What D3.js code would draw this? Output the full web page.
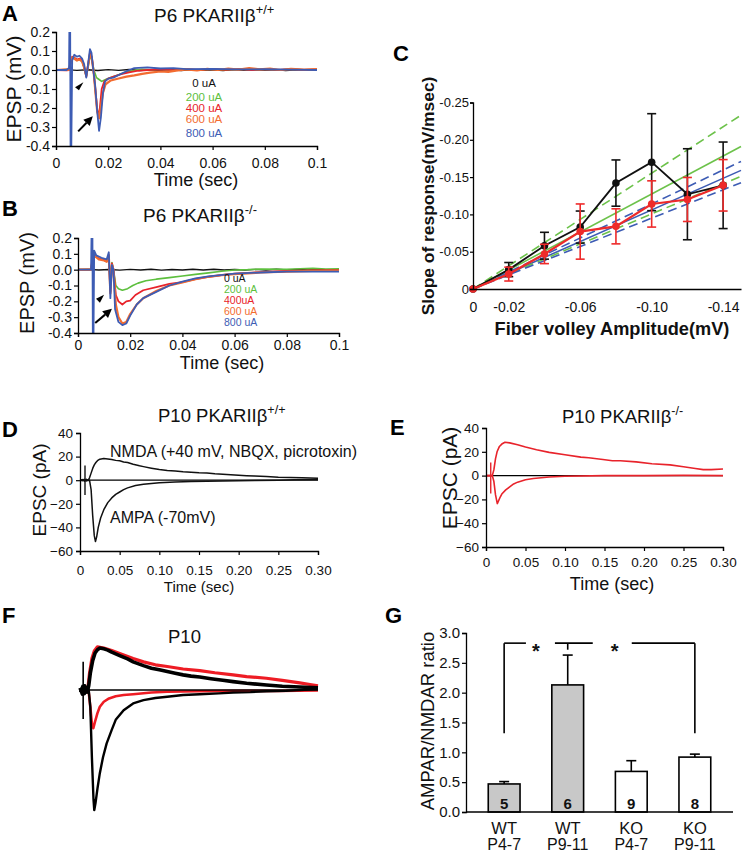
<!DOCTYPE html>
<html><head><meta charset="utf-8">
<script src="https://cdn.jsdelivr.net/npm/d3@7"></script>
<style>
body{margin:0;background:#fff;}
svg{display:block;font-family:"Liberation Sans",Arial,Helvetica,sans-serif;}
</style></head><body>
<svg id="fig" width="742" height="853"></svg>
<script>
// ================= DATA =================
// ---- Panels A & B (EPSP traces) ----
const timeTicksAB = [0, 0.02, 0.04, 0.06, 0.08, 0.1];
const timeTickLabelsAB = ["0", "0.02", "0.04", "0.06", "0.08", "0.1"];
const epspTicks = [0.2, 0.1, 0, -0.1, -0.2, -0.3, -0.4];
const epspTickLabels = ["0.2", "0.1", "0.0", "-0.1", "-0.2", "-0.3", "-0.4"];
const stimNames = ["0uA", "200uA", "400uA", "600uA", "800uA"];
const stimLabelsA = ["0 uA", "200 uA", "400 uA", "600 uA", "800 uA"];
const stimLabelsB = ["0 uA", "200 uA", "400uA", "600 uA", "800 uA"];

const traceA_0 = [[0,0],[0.004,0.002],[0.008,-0.002],[0.012,0.001],[0.016,-0.003],[0.02,0.002],[0.024,-0.002],[0.028,0.003],[0.032,-0.003],[0.036,0.001],[0.04,-0.002],[0.044,0.003],[0.048,-0.003],[0.052,0.002],[0.056,-0.002],[0.06,0.001],[0.064,-0.003],[0.068,0.002],[0.072,-0.002],[0.076,0.003],[0.08,-0.002],[0.084,0.002],[0.088,-0.003],[0.092,0.001],[0.096,-0.002],[0.1,0.001]];
const traceA_200 = [[0,0],[0.004,0.002],[0.005,0],[0.0055,0.03],[0.0062,0.06],[0.007,0.065],[0.008,0.05],[0.009,0.055],[0.010,0.045],[0.0108,0.01],[0.0116,-0.03],[0.0122,0.01],[0.013,0.07],[0.0137,0.06],[0.0145,0.0],[0.0155,-0.04],[0.0165,-0.05],[0.0175,-0.06],[0.019,-0.05],[0.021,-0.04],[0.023,-0.03],[0.025,-0.02],[0.027,-0.01],[0.03,-0.003],[0.033,0.004],[0.037,0.0],[0.04,0.005],[0.045,-0.002],[0.05,0.004],[0.055,0.0],[0.06,0.005],[0.065,0.0],[0.07,0.004],[0.075,0.0],[0.08,0.003],[0.085,0.0],[0.09,0.004],[0.095,0.0],[0.1,0.002]];
const traceA_400 = [[0,0],[0.004,-0.002],[0.005,0],[0.0055,0.04],[0.0062,0.07],[0.007,0.065],[0.008,0.055],[0.009,0.06],[0.010,0.05],[0.0108,0.015],[0.0116,-0.035],[0.0122,0.02],[0.013,0.09],[0.0137,0.07],[0.0145,-0.02],[0.0152,-0.12],[0.0158,-0.21],[0.0163,-0.245],[0.0168,-0.2],[0.0175,-0.1],[0.0185,-0.06],[0.02,-0.045],[0.022,-0.035],[0.025,-0.022],[0.028,-0.012],[0.031,-0.005],[0.035,0.0],[0.04,0.004],[0.045,-0.001],[0.05,0.005],[0.055,0.0],[0.06,0.006],[0.065,0.001],[0.07,0.005],[0.075,0.0],[0.08,0.004],[0.085,0.001],[0.09,0.005],[0.095,0.0],[0.1,0.003]];
const traceA_600 = [[0,0],[0.004,0.003],[0.005,0],[0.0055,0.035],[0.0062,0.065],[0.007,0.06],[0.008,0.05],[0.009,0.055],[0.010,0.045],[0.0108,0.012],[0.0116,-0.03],[0.0122,0.015],[0.013,0.08],[0.0137,0.065],[0.0145,-0.02],[0.0152,-0.13],[0.0158,-0.22],[0.0165,-0.255],[0.017,-0.21],[0.018,-0.12],[0.019,-0.075],[0.021,-0.055],[0.024,-0.045],[0.027,-0.035],[0.03,-0.028],[0.033,-0.02],[0.036,-0.014],[0.04,-0.008],[0.043,-0.01],[0.046,-0.003],[0.05,0.003],[0.054,-0.002],[0.058,0.006],[0.062,0.0],[0.066,0.008],[0.07,0.002],[0.074,0.01],[0.078,0.003],[0.082,0.008],[0.086,0.0],[0.09,0.006],[0.095,0.002],[0.1,0.005]];
const traceA_800 = [[0,0],[0.004,0.0],[0.005,0.01],[0.0052,0.35],[0.0054,0.35],[0.0056,-0.5],[0.0058,-0.5],[0.0062,0.05],[0.007,0.08],[0.008,0.07],[0.009,0.075],[0.010,0.06],[0.0108,0.03],[0.0116,-0.04],[0.0122,0.02],[0.013,0.11],[0.0136,0.09],[0.0143,0.0],[0.015,-0.08],[0.0158,-0.22],[0.0165,-0.32],[0.0172,-0.25],[0.018,-0.12],[0.0188,-0.06],[0.02,-0.045],[0.022,-0.04],[0.025,-0.02],[0.028,0.0],[0.03,0.01],[0.035,0.014],[0.04,0.008],[0.045,0.01],[0.05,0.005],[0.06,0.006],[0.07,0.003],[0.08,0.004],[0.09,0.002],[0.1,0.0]];

const traceB_0 = [[0,0],[0.004,0.002],[0.008,-0.002],[0.012,0.001],[0.016,-0.003],[0.02,0.002],[0.024,-0.002],[0.028,0.003],[0.032,-0.003],[0.036,0.001],[0.04,-0.002],[0.044,0.003],[0.048,-0.002],[0.052,0.003],[0.056,-0.002],[0.06,0.001],[0.064,-0.002],[0.068,0.002],[0.072,-0.002],[0.076,0.003],[0.08,-0.001],[0.084,0.002],[0.088,-0.002],[0.092,0.001],[0.096,-0.002],[0.1,0.001]];
const traceB_200 = [[0,0],[0.005,0],[0.0056,0.06],[0.0065,0.085],[0.008,0.07],[0.010,0.06],[0.011,0.055],[0.0118,0.08],[0.0124,-0.1],[0.013,0.045],[0.0136,0.0],[0.0145,-0.1],[0.0155,-0.12],[0.017,-0.13],[0.019,-0.12],[0.021,-0.1],[0.023,-0.085],[0.026,-0.07],[0.03,-0.06],[0.035,-0.05],[0.04,-0.04],[0.045,-0.03],[0.05,-0.02],[0.055,-0.01],[0.06,-0.002],[0.065,0.0],[0.07,0.004],[0.08,0.003],[0.09,0.008],[0.095,0.004],[0.1,0.005]];
const traceB_400 = [[0,0],[0.005,0],[0.0056,0.07],[0.0065,0.09],[0.008,0.07],[0.010,0.06],[0.011,0.055],[0.0118,0.09],[0.0124,-0.14],[0.013,0.04],[0.0136,0.0],[0.0145,-0.16],[0.0155,-0.2],[0.017,-0.22],[0.0185,-0.2],[0.02,-0.195],[0.022,-0.16],[0.025,-0.13],[0.03,-0.11],[0.035,-0.09],[0.04,-0.078],[0.045,-0.06],[0.05,-0.045],[0.055,-0.035],[0.06,-0.025],[0.07,-0.015],[0.08,-0.008],[0.09,-0.005],[0.1,-0.003]];
const traceB_600 = [[0,0],[0.005,0],[0.0056,0.07],[0.0065,0.085],[0.008,0.065],[0.010,0.058],[0.011,0.05],[0.0118,0.09],[0.0124,-0.15],[0.013,0.03],[0.0136,0.0],[0.0145,-0.22],[0.0155,-0.3],[0.017,-0.34],[0.0185,-0.33],[0.02,-0.28],[0.0225,-0.22],[0.025,-0.18],[0.03,-0.135],[0.035,-0.1],[0.04,-0.08],[0.045,-0.06],[0.05,-0.045],[0.055,-0.035],[0.06,-0.028],[0.07,-0.018],[0.08,-0.012],[0.09,-0.008],[0.1,-0.006]];
const traceB_800 = [[0,0],[0.005,0],[0.0053,0.35],[0.0055,0.35],[0.0057,-0.5],[0.0059,-0.5],[0.0062,0.12],[0.007,0.09],[0.009,0.075],[0.011,0.065],[0.0118,0.11],[0.0124,-0.18],[0.013,0.03],[0.0136,0.0],[0.0142,-0.25],[0.0155,-0.33],[0.017,-0.35],[0.0185,-0.34],[0.02,-0.29],[0.0225,-0.22],[0.025,-0.18],[0.03,-0.14],[0.035,-0.1],[0.04,-0.075],[0.045,-0.055],[0.05,-0.042],[0.06,-0.025],[0.07,-0.018],[0.08,-0.012],[0.09,-0.012],[0.1,-0.012]];

// arrow annotations (data coordinates: [time, mV])
const arrowheadA = [[0.0105,-0.065],[0.0073,-0.091],[0.0088,-0.107]];
const arrowA = [[0.0085,-0.323],[0.0141,-0.244]];
const arrowheadB = [[0.0100,-0.158],[0.0069,-0.184],[0.0084,-0.209]];
const arrowB = [[0.0066,-0.337],[0.0130,-0.247]];

// ---- Panel C ----
const fiberVolley = [0, -0.02, -0.04, -0.06, -0.08, -0.10, -0.12, -0.14];
const slopeWT = [0, -0.026, -0.058, -0.083, -0.142, -0.170, -0.127, -0.139];
const slopeWTerr = [0, 0.0095, 0.018, 0.0215, 0.031, 0.065, 0.061, 0.058];
const slopeKO = [0, -0.020, -0.047, -0.077, -0.084, -0.114, -0.120, -0.139];
const slopeKOerr = [0, 0.0093, 0.013, 0.037, 0.0235, 0.031, 0.0295, 0.0345];
const fitEndX = -0.15;
const fitNames = ["green dashed 1", "green solid", "blue dashed 1", "blue solid", "green dashed 2", "blue dashed 2"];
const fitEndY = [-0.233, -0.191, -0.171, -0.159, -0.151, -0.1425];
const fitColor = ["green", "green", "blue", "blue", "green", "blue"];
const fitDashed = [true, false, true, false, true, true];
const cTicksX = [0, -0.02, -0.06, -0.10, -0.14];
const cTickLabelsX = ["0", "-0.02", "-0.06", "-0.10", "-0.14"];
const cTicksY = [0, -0.05, -0.10, -0.15, -0.20, -0.25];
const cTickLabelsY = ["0", "-0.05", "-0.10", "-0.15", "-0.20", "-0.25"];

// ---- Panels D, E (EPSC traces) ----
const epscTimeTicks = [0, 0.05, 0.10, 0.15, 0.20, 0.25, 0.30];
const epscTimeLabels = ["0", "0.05", "0.10", "0.15", "0.20", "0.25", "0.30"];
const epscTicks = [40, 20, 0, -20, -40, -60];

const nmdaWT = [[0,0],[0.004,0.6],[0.006,-0.8],[0.008,0.7],[0.010,-0.4],[0.012,2],[0.014,6],[0.016,10],[0.018,13],[0.02,15],[0.022,16.5],[0.025,17.8],[0.03,18.4],[0.035,18],[0.04,17.6],[0.045,16.8],[0.05,16.4],[0.055,15.5],[0.06,15],[0.067,13.5],[0.075,12.2],[0.08,11.5],[0.09,10.2],[0.1,9],[0.11,8.3],[0.12,7.8],[0.13,7.2],[0.14,6.8],[0.15,6.3],[0.16,6],[0.17,5.4],[0.18,5],[0.19,4.6],[0.2,4.2],[0.21,3.8],[0.22,3.5],[0.235,3.2],[0.25,2.6],[0.265,2.3],[0.28,2],[0.3,1.6]];
const ampaWT = [[0,0],[0.004,-0.5],[0.006,0.8],[0.008,-0.6],[0.010,0.4],[0.012,0],[0.014,-8],[0.016,-30],[0.018,-47],[0.0195,-52],[0.021,-48],[0.023,-40],[0.026,-32],[0.03,-25],[0.035,-19],[0.04,-15],[0.045,-12],[0.05,-10],[0.055,-8],[0.06,-6.5],[0.07,-4.5],[0.08,-3.5],[0.09,-2.8],[0.1,-2.2],[0.12,-1.6],[0.14,-1.2],[0.16,-0.9],[0.18,-0.6],[0.2,-0.4],[0.22,-0.2],[0.25,0],[0.27,0.4],[0.3,0.6]];
const artifactWT = [[0.0063,12.5],[0.0063,-12.5]];

const nmdaKO = [[0,0],[0.004,0],[0.008,0],[0.010,5],[0.012,14],[0.014,20],[0.017,24.5],[0.02,26.5],[0.024,28],[0.03,27.5],[0.04,26],[0.05,24],[0.064,21.7],[0.08,19.5],[0.1,17.5],[0.12,15.5],[0.13,15],[0.148,13.5],[0.16,12.5],[0.17,12.5],[0.19,11.5],[0.21,10],[0.233,9],[0.25,7.5],[0.265,6],[0.275,5],[0.285,5],[0.3,5.5]];
const ampaKO = [[0,0],[0.008,0],[0.010,-5],[0.012,-16],[0.0143,-23.5],[0.016,-21],[0.018,-18],[0.02,-15.5],[0.025,-12],[0.03,-9.5],[0.035,-7],[0.04,-5.5],[0.05,-3.5],[0.06,-2.5],[0.08,-1.2],[0.1,-0.5],[0.15,0],[0.2,0],[0.25,0.2],[0.3,0]];
const artifactKO = [[0.006,11],[0.006,-15]];

// ---- Panel F (scaled overlay, NMDA peak = 1) ----
const fNmdaWT = [[0,0.05],[0.003,-0.1],[0.006,0.1],[0.009,-0.05],[0.011,0.1],[0.013,0.4],[0.016,0.7],[0.019,0.88],[0.022,0.96],[0.025,1.0],[0.03,0.98],[0.035,0.95],[0.04,0.9],[0.05,0.82],[0.06,0.74],[0.067,0.67],[0.08,0.58],[0.09,0.52],[0.1,0.48],[0.11,0.44],[0.12,0.4],[0.13,0.36],[0.14,0.33],[0.151,0.31],[0.165,0.27],[0.18,0.23],[0.193,0.2],[0.21,0.16],[0.235,0.12],[0.255,0.09],[0.277,0.07],[0.3,0.05]];
const fNmdaKO = [[0,0],[0.01,0.05],[0.012,0.4],[0.015,0.75],[0.018,0.93],[0.022,1.03],[0.03,1.0],[0.04,0.94],[0.05,0.87],[0.067,0.75],[0.08,0.67],[0.095,0.6],[0.11,0.56],[0.13,0.5],[0.151,0.46],[0.17,0.41],[0.193,0.36],[0.21,0.32],[0.235,0.28],[0.255,0.23],[0.277,0.17],[0.29,0.13],[0.3,0.1]];
const fAmpaWT = [[0,-0.05],[0.003,0.1],[0.006,-0.1],[0.009,0.05],[0.011,0],[0.013,-0.4],[0.015,-1.6],[0.017,-2.6],[0.018,-2.86],[0.0195,-2.7],[0.022,-2.35],[0.025,-1.98],[0.029,-1.6],[0.0336,-1.27],[0.04,-0.95],[0.045,-0.71],[0.055,-0.48],[0.067,-0.32],[0.08,-0.24],[0.095,-0.19],[0.11,-0.16],[0.13,-0.12],[0.151,-0.1],[0.175,-0.08],[0.193,-0.06],[0.215,-0.05],[0.235,-0.03],[0.26,-0.02],[0.277,0],[0.3,0.02]];
const fAmpaKO = [[0.008,0],[0.011,-0.05],[0.013,-0.4],[0.015,-0.8],[0.0168,-0.91],[0.019,-0.75],[0.022,-0.55],[0.025,-0.4],[0.03,-0.28],[0.0366,-0.2],[0.045,-0.15],[0.055,-0.12],[0.067,-0.1],[0.09,-0.06],[0.11,-0.04],[0.15,-0.03],[0.2,-0.02],[0.25,-0.02],[0.3,-0.01]];
const fArtifact = [[0.004,0.67],[0.004,-0.69]];

// ---- Panel G (bar chart) ----
const groupGenotype = ["WT", "WT", "KO", "KO"];
const groupAge = ["P4-7", "P9-11", "P4-7", "P9-11"];
const ratioMean = [0.47, 2.13, 0.68, 0.92];
const ratioErr = [0.04, 0.50, 0.18, 0.05];
const cellCount = [5, 6, 9, 8];
const ratioTicks = [0, 0.5, 1.0, 1.5, 2.0, 2.5, 3.0];
const sigBracket = { fromGroup: 0, toGroup: 3, top: 2.83, bottom: 1.32, midGroup: 1, midBottom: 2.72 };
const sigStars = [{ between: [0, 1], frac: 0.5, gap: [-10, 19] }, { between: [1, 3], frac: 0.37, gap: [-22, 17] }];

// ================= DRAWING =================
const svg = d3.select("#fig");
svg.append("rect").attr("width", 742).attr("height", 853).attr("fill", "#fff");

const COL = { black: "#111111", green: "#5dbf3e", red: "#e8232b", orange: "#f36c30", blue: "#3d5cb4" };
const stimColors = [COL.black, COL.green, COL.red, COL.orange, COL.blue];

function styleAxis(g, fs) {
  g.selectAll("path.domain").attr("stroke", "#000").attr("stroke-width", 1.3);
  g.selectAll(".tick line").attr("stroke", "#000").attr("stroke-width", 1.2);
  g.selectAll(".tick text").attr("font-size", fs).attr("fill", "#111")
    .attr("font-family", '"Liberation Sans",Arial,sans-serif');
}

function panelLetter(txt, x, y) {
  svg.append("text").attr("x", x).attr("y", y).text(txt)
    .attr("font-size", 22).attr("font-weight", "bold").attr("fill", "#000");
}
function titleSup(x, y, main, sup, fs) {
  const t = svg.append("text").attr("x", x).attr("y", y).attr("font-size", fs).attr("fill", "#111");
  t.append("tspan").text(main);
  if (sup) t.append("tspan").attr("dy", -fs * 0.42).attr("font-size", fs * 0.68).text(sup);
}
function yLabel(txt, x, y, fs, weight) {
  svg.append("text").attr("transform", `translate(${x},${y}) rotate(-90)`)
    .attr("text-anchor", "middle").attr("font-size", fs).attr("font-weight", weight || "normal")
    .attr("fill", "#111").text(txt);
}
function xLabel(txt, x, y, fs, weight) {
  svg.append("text").attr("x", x).attr("y", y).attr("text-anchor", "middle")
    .attr("font-size", fs).attr("font-weight", weight || "normal").attr("fill", "#111").text(txt);
}

// ---------- EPSP panel builder (A, B) ----------
function epspPanel(cfg) {
  const x = d3.scaleLinear().domain([0, 0.1]).range(cfg.xr);
  const y = d3.scaleLinear().domain([-0.4, 0.2]).range(cfg.yr);
  const clipId = "clip" + cfg.id;
  svg.append("clipPath").attr("id", clipId).append("rect")
    .attr("x", cfg.xr[0]).attr("y", cfg.yr[1]).attr("width", cfg.xr[1] - cfg.xr[0]).attr("height", cfg.yr[0] - cfg.yr[1]);
  const line = d3.line().x(d => x(d[0])).y(d => y(d[1]));
  const g = svg.append("g").attr("clip-path", `url(#${clipId})`);
  const widths = [1.4, 1.6, 1.8, 2.2, 1.8];
  cfg.traces.forEach((tr, i) => {
    g.append("path").datum(tr).attr("d", line).attr("fill", "none")
      .attr("stroke", stimColors[i]).attr("stroke-width", widths[i]).attr("stroke-linejoin", "round");
  });
  // legend labels
  cfg.labels.forEach((lab, i) => {
    svg.append("text").attr("x", cfg.legX).attr("y", cfg.legY[i]).attr("text-anchor", cfg.legAnchor)
      .attr("font-size", cfg.legFs).attr("fill", stimColors[i]).text(lab);
  });
  // arrowhead triangle
  svg.append("path").attr("d", "M" + cfg.head.map(p => [x(p[0]), y(p[1])].join(",")).join("L") + "Z").attr("fill", "#000");
  // arrow
  const p0 = [x(cfg.arrow[0][0]), y(cfg.arrow[0][1])], p1 = [x(cfg.arrow[1][0]), y(cfg.arrow[1][1])];
  const ang = Math.atan2(p1[1] - p0[1], p1[0] - p0[0]);
  const hl = 9, hw = 4.5;
  const bx = p1[0] - hl * Math.cos(ang), by = p1[1] - hl * Math.sin(ang);
  svg.append("line").attr("x1", p0[0]).attr("y1", p0[1]).attr("x2", bx).attr("y2", by).attr("stroke", "#000").attr("stroke-width", 2);
  svg.append("path").attr("d", `M${p1[0]},${p1[1]}L${bx + hw * Math.sin(ang)},${by - hw * Math.cos(ang)}L${bx - hw * Math.sin(ang)},${by + hw * Math.cos(ang)}Z`).attr("fill", "#000");
  // axes
  const ax = svg.append("g").attr("transform", `translate(0,${cfg.yr[0]})`)
    .call(d3.axisBottom(x).tickValues(timeTicksAB).tickFormat((d, i) => timeTickLabelsAB[i]).tickSizeOuter(0).tickSize(4).tickPadding(cfg.xPad));
  styleAxis(ax, cfg.tickFs);
  const ay = svg.append("g").attr("transform", `translate(${cfg.xr[0]},0)`)
    .call(d3.axisLeft(y).tickValues(epspTicks).tickFormat((d, i) => epspTickLabels[i]).tickSizeOuter(0).tickSize(4).tickPadding(2));
  styleAxis(ay, cfg.tickFs);
}

epspPanel({
  id: "A", xr: [56, 317], yr: [146, 32], xPad: 8, tickFs: 14,
  traces: [traceA_0, traceA_200, traceA_400, traceA_600, traceA_800],
  labels: stimLabelsA, legX: 204, legAnchor: "middle", legY: [87, 101, 112, 123, 137], legFs: 11.5,
  head: arrowheadA, arrow: arrowA
});
epspPanel({
  id: "B", xr: [78, 339], yr: [333, 238], xPad: 3, tickFs: 14,
  traces: [traceB_0, traceB_200, traceB_400, traceB_600, traceB_800],
  labels: stimLabelsB, legX: 224, legAnchor: "start", legY: [282, 293, 304, 315, 326], legFs: 10.5,
  head: arrowheadB, arrow: arrowB
});
panelLetter("A", 2, 21);
panelLetter("B", 2, 216);
titleSup(154, 22, "P6 PKARIIβ", "+/+", 19);
titleSup(143, 222, "P6 PKARIIβ", "-/-", 19);
yLabel("EPSP (mV)", 21, 89, 21);
yLabel("EPSP (mV)", 34, 283, 20);
xLabel("Time (sec)", 196, 186, 18);
xLabel("Time (sec)", 222, 369, 18);

// ---------- Panel C ----------
(function () {
  const x = d3.scaleLinear().domain([0, -0.15]).range([473, 741]);
  const y = d3.scaleLinear().domain([0, -0.25]).range([289, 102.5]);
  const fitColors = { green: "#6cc24a", blue: "#3d5cb4" };
  fitEndY.forEach((v, i) => {
    svg.append("line").attr("x1", x(0)).attr("y1", y(0)).attr("x2", x(fitEndX)).attr("y2", y(v))
      .attr("stroke", fitColors[fitColor[i]]).attr("stroke-width", 1.6)
      .attr("stroke-dasharray", fitDashed[i] ? "9,5" : null);
  });
  const series = [
    { vals: slopeWT, err: slopeWTerr, color: "#111", w: 1.8 },
    { vals: slopeKO, err: slopeKOerr, color: "#ee2a2a", w: 2.2 }
  ];
  series.forEach(s => {
    const pts = fiberVolley.map((fv, i) => [fv, s.vals[i], s.err[i]]);
    const g = svg.append("g");
    pts.forEach(p => {
      if (p[2] > 0) {
        const x0 = x(p[0]), yt = y(p[1] - p[2]), yb = y(p[1] + p[2]);
        g.append("line").attr("x1", x0).attr("x2", x0).attr("y1", yt).attr("y2", yb).attr("stroke", s.color).attr("stroke-width", 1.6);
        [yt, yb].forEach(yy => g.append("line").attr("x1", x0 - 4.5).attr("x2", x0 + 4.5).attr("y1", yy).attr("y2", yy).attr("stroke", s.color).attr("stroke-width", 1.6));
      }
    });
    g.append("path").datum(pts).attr("d", d3.line().x(d => x(d[0])).y(d => y(d[1])))
      .attr("fill", "none").attr("stroke", s.color).attr("stroke-width", s.w);
    g.selectAll("circle").data(pts).join("circle").attr("cx", d => x(d[0])).attr("cy", d => y(d[1]))
      .attr("r", 3.8).attr("fill", s.color);
  });
  const ax = svg.append("g").attr("transform", "translate(0,289)")
    .call(d3.axisBottom(x).tickValues(cTicksX).tickFormat((d, i) => cTickLabelsX[i]).tickSizeOuter(0).tickSize(0).tickPadding(13));
  styleAxis(ax, 14);
  const ay = svg.append("g").attr("transform", "translate(473,0)")
    .call(d3.axisLeft(y).tickValues(cTicksY).tickFormat((d, i) => cTickLabelsY[i]).tickSizeOuter(0).tickSize(3).tickPadding(1));
  styleAxis(ay, 13);
  panelLetter("C", 393, 61);
  yLabel("Slope of response(mV/msec)", 434, 196, 17.4, "bold");
  xLabel("Fiber volley Amplitude(mV)", 612, 335, 18.2, "bold");
})();

// ---------- EPSC panel builder (D, E) ----------
function epscPanel(cfg) {
  const x = d3.scaleLinear().domain([0, 0.3]).range(cfg.xr);
  const y = d3.scaleLinear().domain([-60, 40]).range(cfg.yr);
  const line = d3.line().x(d => x(d[0])).y(d => y(d[1]));
  svg.append("line").attr("x1", x(0)).attr("x2", x(0.3)).attr("y1", y(0)).attr("y2", y(0)).attr("stroke", "#000").attr("stroke-width", 1.3);
  [cfg.nmda, cfg.ampa].forEach(tr => {
    svg.append("path").datum(tr).attr("d", line).attr("fill", "none").attr("stroke", cfg.color)
      .attr("stroke-width", cfg.w).attr("stroke-linejoin", "round");
  });
  svg.append("path").datum(cfg.artifact).attr("d", line).attr("stroke", cfg.color).attr("stroke-width", 1.4);
  const ax = svg.append("g").attr("transform", `translate(0,${cfg.yr[0]})`)
    .call(d3.axisBottom(x).tickValues(epscTimeTicks).tickFormat((d, i) => epscTimeLabels[i]).tickSizeOuter(0).tickSize(4).tickPadding(cfg.xPad));
  styleAxis(ax, cfg.tickFs);
  const ay = svg.append("g").attr("transform", `translate(${cfg.xr[0]},0)`)
    .call(d3.axisLeft(y).tickValues(epscTicks).tickFormat(d3.format("d")).tickSizeOuter(0).tickSize(4).tickPadding(3));
  styleAxis(ay, cfg.tickFs);
}
epscPanel({ xr: [80, 318], yr: [551, 433], nmda: nmdaWT, ampa: ampaWT, artifact: artifactWT, color: "#111", w: 1.5, xPad: 10, tickFs: 13.5 });
epscPanel({ xr: [486, 723], yr: [547, 428], nmda: nmdaKO, ampa: ampaKO, artifact: artifactKO, color: "#e8232b", w: 1.6, xPad: 6, tickFs: 13.5 });
panelLetter("D", 2, 437);
panelLetter("E", 390, 435);
titleSup(158, 422, "P10 PKARIIβ", "+/+", 18.5);
titleSup(562, 423, "P10 PKARIIβ", "-/-", 18.5);
yLabel("EPSC (pA)", 46, 490, 19);
yLabel("EPSC (pA)", 457, 478, 21);
xLabel("Time (sec)", 199, 592, 15);
xLabel("Time (sec)", 612, 590, 18);
svg.append("text").attr("x", 110).attr("y", 457).attr("font-size", 16).attr("fill", "#111").text("NMDA (+40 mV, NBQX, picrotoxin)");
svg.append("text").attr("x", 110).attr("y", 523).attr("font-size", 16).attr("fill", "#111").text("AMPA (-70mV)");

// ---------- Panel F ----------
(function () {
  const x = d3.scaleLinear().domain([0, 0.3]).range([80, 318]);
  const y = d3.scaleLinear().domain([-3, 1]).range([816, 648]);
  const line = d3.line().x(d => x(d[0])).y(d => y(d[1]));
  svg.append("path").datum(fNmdaKO).attr("d", line).attr("fill", "none").attr("stroke", "#ee1c24").attr("stroke-width", 3.2).attr("stroke-linejoin", "round");
  svg.append("path").datum(fAmpaKO).attr("d", line).attr("fill", "none").attr("stroke", "#ee1c24").attr("stroke-width", 2.6).attr("stroke-linejoin", "round");
  svg.append("path").datum(fNmdaWT).attr("d", line).attr("fill", "none").attr("stroke", "#000").attr("stroke-width", 3.6).attr("stroke-linejoin", "round");
  svg.append("path").datum(fAmpaWT).attr("d", line).attr("fill", "none").attr("stroke", "#000").attr("stroke-width", 2.4).attr("stroke-linejoin", "round");
  svg.append("line").attr("x1", x(0)).attr("x2", x(0.3)).attr("y1", y(0)).attr("y2", y(0)).attr("stroke", "#000").attr("stroke-width", 1.3);
  svg.append("path").datum(fArtifact).attr("d", line).attr("stroke", "#000").attr("stroke-width", 1.6);
  panelLetter("F", 2, 623);
  titleSup(168, 643, "P10", null, 18.5);
})();

// ---------- Panel G ----------
(function () {
  const groups = groupGenotype.map((g, i) => g + " " + groupAge[i]);
  const x = d3.scaleBand().domain(groups).range([466, 733]).paddingInner(0.5).paddingOuter(0.35);
  const y = d3.scaleLinear().domain([0, 3]).range([812, 633]);
  const cx = i => x(groups[i]) + x.bandwidth() / 2;
  groups.forEach((gname, i) => {
    const x0 = x(gname), w = x.bandwidth();
    const top = y(ratioMean[i]), et = y(ratioMean[i] + ratioErr[i]);
    svg.append("line").attr("x1", cx(i)).attr("x2", cx(i)).attr("y1", top).attr("y2", et).attr("stroke", "#000").attr("stroke-width", 1.6);
    svg.append("line").attr("x1", cx(i) - 5).attr("x2", cx(i) + 5).attr("y1", et).attr("y2", et).attr("stroke", "#000").attr("stroke-width", 1.6);
    svg.append("rect").attr("x", x0).attr("y", top).attr("width", w).attr("height", y(0) - top)
      .attr("fill", groupGenotype[i] === "WT" ? "#c8c8c8" : "#fff").attr("stroke", "#000").attr("stroke-width", 1.6);
    svg.append("text").attr("x", cx(i)).attr("y", 809).attr("text-anchor", "middle").attr("font-size", 15)
      .attr("font-weight", "bold").attr("fill", "#111").text(cellCount[i]);
    svg.append("text").attr("x", cx(i)).attr("y", 834).attr("text-anchor", "middle").attr("font-size", 16.5).attr("fill", "#111").text(groupGenotype[i]);
    svg.append("text").attr("x", cx(i)).attr("y", 850).attr("text-anchor", "middle").attr("font-size", 16).attr("fill", "#111").text(groupAge[i]);
  });
  // significance bracket
  const xl = cx(sigBracket.fromGroup), xr = cx(sigBracket.toGroup);
  const yt = y(sigBracket.top), yb = y(sigBracket.bottom);
  const stars = sigStars.map(s => {
    const a = cx(s.between[0]), b = cx(s.between[1]);
    return { x: a + (b - a) * s.frac, gap: s.gap };
  });
  let segs = [], cur = xl;
  stars.forEach(s => { segs.push([cur, s.x + s.gap[0]]); cur = s.x + s.gap[1]; });
  segs.push([cur, xr]);
  const br = svg.append("g").attr("stroke", "#000").attr("stroke-width", 1.6).attr("fill", "none");
  br.append("line").attr("x1", xl).attr("x2", xl).attr("y1", yb).attr("y2", yt);
  br.append("line").attr("x1", xr).attr("x2", xr).attr("y1", yb).attr("y2", yt);
  segs.forEach(s => br.append("line").attr("x1", s[0]).attr("x2", s[1]).attr("y1", yt).attr("y2", yt));
  const xm = cx(sigBracket.midGroup);
  br.append("line").attr("x1", xm).attr("x2", xm).attr("y1", yt).attr("y2", y(sigBracket.midBottom));
  stars.forEach(s => svg.append("text").attr("x", s.x).attr("y", yt + 15).attr("text-anchor", "middle")
    .attr("font-size", 20).attr("font-weight", "bold").attr("fill", "#111").text("*"));
  // axes
  svg.append("line").attr("x1", 466).attr("x2", 733).attr("y1", y(0)).attr("y2", y(0)).attr("stroke", "#000").attr("stroke-width", 1.3);
  const ay = svg.append("g").attr("transform", "translate(466,0)")
    .call(d3.axisLeft(y).tickValues(ratioTicks).tickFormat(d3.format(".1f")).tickSizeOuter(0).tickSize(4).tickPadding(2));
  styleAxis(ay, 15);
  panelLetter("G", 385, 623);
  yLabel("AMPAR/NMDAR ratio", 434, 721, 18.5);
})();
</script>
</body></html>
